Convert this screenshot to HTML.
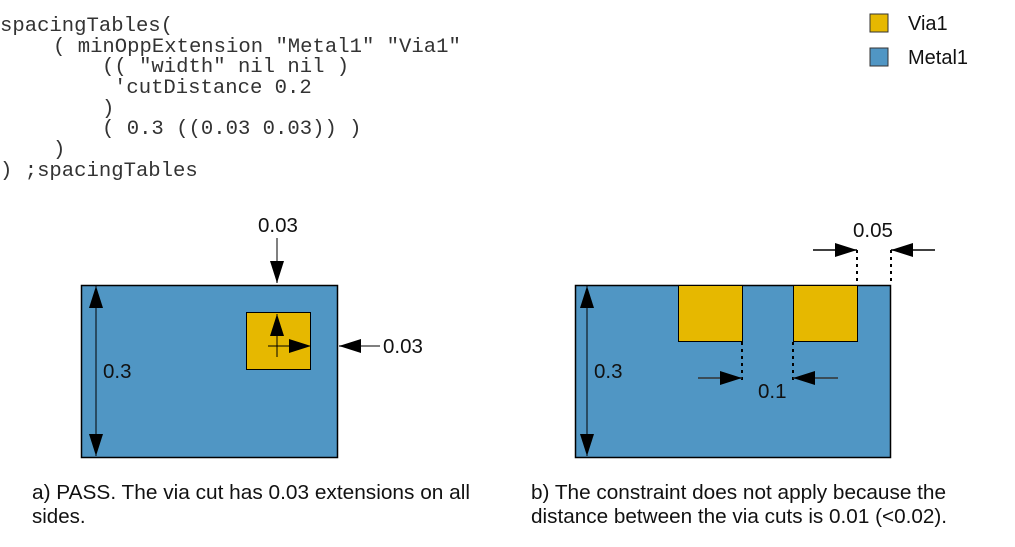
<!DOCTYPE html>
<html><head><style>
html,body{margin:0;padding:0;background:#fff;width:1015px;height:547px;overflow:hidden}
svg{display:block}
.c{font-family:"Liberation Mono",monospace;font-size:20.6px;fill:#333}
.s{font-family:"Liberation Sans",sans-serif;font-size:20.5px;fill:#111}
.l{font-family:"Liberation Sans",sans-serif;font-size:20px;fill:#111}
</style></head><body>
<svg width="1015" height="547" viewBox="0 0 1015 547" xmlns="http://www.w3.org/2000/svg">
<defs>
<marker id="a" markerWidth="22" markerHeight="14" refX="22" refY="7" orient="auto" markerUnits="userSpaceOnUse"><path d="M0,0 L22,7 L0,14 Z" fill="#000"/></marker>
</defs>
<g class="c">
<text x="0" y="31">spacingTables(</text>
<text x="53" y="52">( minOppExtension "Metal1" "Via1"</text>
<text x="102" y="72">(( "width" nil nil )</text>
<text x="114" y="93">'cutDistance 0.2</text>
<text x="102" y="114">)</text>
<text x="102" y="134">( 0.3 ((0.03 0.03)) )</text>
<text x="53" y="155">)</text>
<text x="0" y="176">) ;spacingTables</text>
</g>
<rect x="870" y="14" width="18" height="18" fill="#e6b800" stroke="#333"/>
<text class="l" x="908" y="30">Via1</text>
<rect x="870" y="48" width="18" height="18" fill="#5096c4" stroke="#333"/>
<text class="l" x="908" y="64">Metal1</text>

<!-- left -->
<rect x="81.5" y="285.5" width="256" height="172" fill="#5096c4" stroke="#000" stroke-width="1.5"/>
<rect x="246.5" y="312.5" width="64" height="57" fill="#e6b800" stroke="#000"/>
<line x1="96" y1="370" x2="96" y2="286" stroke="#000" marker-end="url(#a)"/>
<line x1="96" y1="370" x2="96" y2="456" stroke="#000" marker-end="url(#a)"/>
<text class="s" x="103" y="378">0.3</text>
<line x1="277" y1="238" x2="277" y2="283" stroke="#555" stroke-width="1.5" marker-end="url(#a)"/>
<text class="s" x="258" y="232">0.03</text>
<line x1="380" y1="346" x2="339" y2="346" stroke="#555" stroke-width="1.5" marker-end="url(#a)"/>
<text class="s" x="383" y="353">0.03</text>
<line x1="277" y1="357" x2="277" y2="314" stroke="#000" marker-end="url(#a)"/>
<line x1="268" y1="346" x2="311" y2="346" stroke="#000" marker-end="url(#a)"/>
<text class="s" x="32" y="499" textLength="438" lengthAdjust="spacingAndGlyphs">a) PASS. The via cut has 0.03 extensions on all</text>
<text class="s" x="32" y="523">sides.</text>

<!-- right -->
<rect x="575.5" y="285.5" width="315" height="172" fill="#5096c4" stroke="#000" stroke-width="1.5"/>
<rect x="678.5" y="285.5" width="64" height="56" fill="#e6b800" stroke="#000"/>
<rect x="793.5" y="285.5" width="64" height="56" fill="#e6b800" stroke="#000"/>
<line x1="587" y1="370" x2="587" y2="286" stroke="#000" marker-end="url(#a)"/>
<line x1="587" y1="370" x2="587" y2="456" stroke="#000" marker-end="url(#a)"/>
<text class="s" x="594" y="378">0.3</text>
<line x1="742" y1="342" x2="742" y2="383" stroke="#000" stroke-width="2" stroke-dasharray="3,4"/>
<line x1="793" y1="342" x2="793" y2="383" stroke="#000" stroke-width="2" stroke-dasharray="3,4"/>
<line x1="698" y1="378" x2="742" y2="378" stroke="#333" stroke-width="1.5" marker-end="url(#a)"/>
<line x1="838" y1="378" x2="793" y2="378" stroke="#333" stroke-width="1.5" marker-end="url(#a)"/>
<text class="s" x="758" y="398">0.1</text>
<line x1="857" y1="250" x2="857" y2="285" stroke="#000" stroke-width="2" stroke-dasharray="3,4"/>
<line x1="891" y1="250" x2="891" y2="285" stroke="#000" stroke-width="2" stroke-dasharray="3,4"/>
<line x1="813" y1="250" x2="857" y2="250" stroke="#000" stroke-width="1.5" marker-end="url(#a)"/>
<line x1="935" y1="250" x2="891" y2="250" stroke="#000" stroke-width="1.5" marker-end="url(#a)"/>
<text class="s" x="853" y="237">0.05</text>
<text class="s" x="531" y="499" textLength="415" lengthAdjust="spacingAndGlyphs">b) The constraint does not apply because the</text>
<text class="s" x="531" y="523" textLength="416" lengthAdjust="spacingAndGlyphs">distance between the via cuts is 0.01 (&lt;0.02).</text>
</svg>
</body></html>
